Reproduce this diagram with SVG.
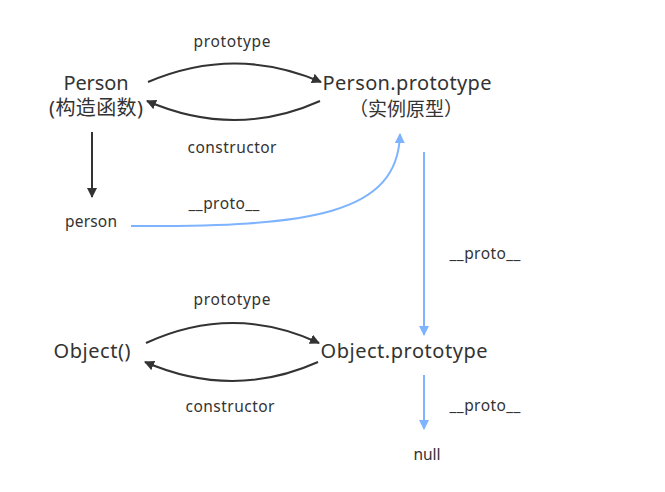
<svg xmlns="http://www.w3.org/2000/svg" width="665" height="492" viewBox="0 0 665 492">
<defs>
<marker id="ad" viewBox="0 0 10 10" refX="9" refY="5" markerWidth="10" markerHeight="10" markerUnits="userSpaceOnUse" orient="auto"><path d="M0,0 L10,5 L0,10 Z" fill="#333"/></marker>
<marker id="ab" viewBox="0 0 10 10" refX="9" refY="5" markerWidth="10" markerHeight="10" markerUnits="userSpaceOnUse" orient="auto"><path d="M0,0 L10,5 L0,10 Z" fill="#7eb3ff"/></marker>
</defs>
<style>
text{font-family:"Noto Sans","Noto Sans CJK SC",sans-serif;fill:#333;text-anchor:middle}
.n{font-size:20px}
.c{font-size:19px;font-family:"Noto Sans CJK SC",sans-serif}
.l{font-size:15.5px}
.d{fill:none;stroke:#333;stroke-width:2;marker-end:url(#ad)}
.b{fill:none;stroke:#7eb3ff;stroke-width:2;marker-end:url(#ab)}
</style>
<rect width="665" height="492" fill="#fff"/>
<g id="connectors">
<path class="d" d="M148,82 Q235,45 321,82"/>
<path class="d" d="M320,101 Q235,139 147,101"/>
<path class="d" d="M92,132 L92,197"/>
<path class="b" d="M131,226 C310,227 398,215 400,134"/>
<path class="b" d="M424,152 L424,335"/>
<path class="d" d="M146,343 Q233,303 319,343"/>
<path class="d" d="M318,362 Q233,400 145,362"/>
<path class="b" d="M424,375 L424,429"/>
<text class="l" x="232" y="47" textLength="77">prototype</text>
<text class="l" x="232" y="153" textLength="89">constructor</text>
<text class="l" x="224" y="209" textLength="71">__proto__</text>
<text class="l" x="485" y="259" textLength="71">__proto__</text>
<text class="l" x="232" y="305" textLength="77">prototype</text>
<text class="l" x="230" y="412" textLength="89">constructor</text>
<text class="l" x="485" y="411" textLength="71">__proto__</text>
</g>
<g id="person-ctor"><text class="n" x="96" y="90" textLength="65">Person</text><text class="n" x="96" y="115" textLength="94">(构造函数)</text></g>
<g id="person-proto"><text class="n" x="407" y="90" textLength="169">Person.prototype</text><text class="c" x="406" y="116">（实例原型）</text></g>
<g id="person"><text class="l" x="91" y="227" textLength="52">person</text></g>
<g id="object-ctor"><text class="n" x="92" y="358" textLength="77">Object()</text></g>
<g id="object-proto"><text class="n" x="404" y="358" textLength="167">Object.prototype</text></g>
<g id="null"><text class="l" x="427" y="460" textLength="27">null</text></g>
</svg>
